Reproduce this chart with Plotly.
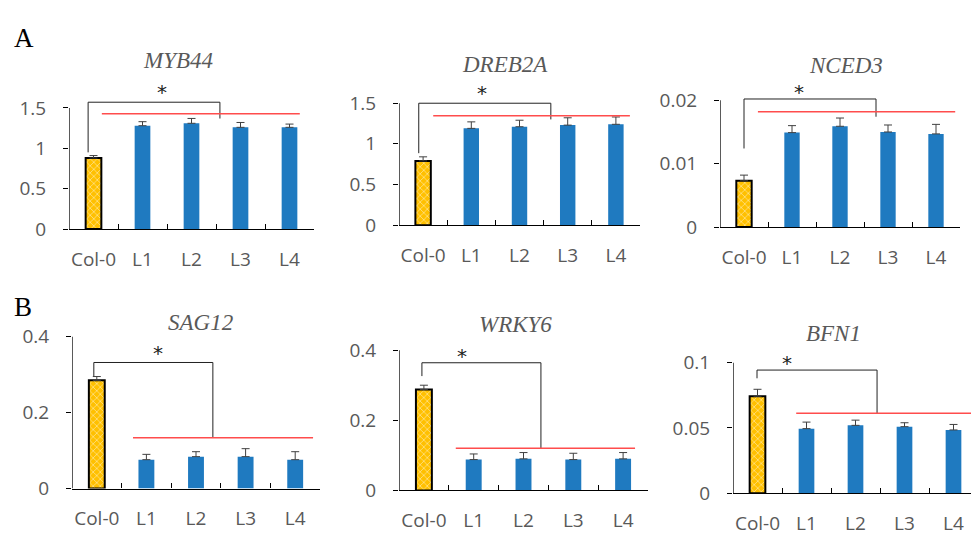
import plotly.graph_objects as go

# ---- data -------------------------------------------------------------
lines = ["Col-0", "L1", "L2", "L3", "L4"]
genes = ["MYB44", "DREB2A", "NCED3", "SAG12", "WRKY6", "BFN1"]

myb44 = [0.88, 1.28, 1.31, 1.26, 1.26]
myb44_err = [0.03, 0.05, 0.06, 0.06, 0.04]
dreb2a = [0.79, 1.19, 1.21, 1.23, 1.24]
dreb2a_err = [0.05, 0.08, 0.08, 0.09, 0.09]
nced3 = [0.0073, 0.0149, 0.0159, 0.0150, 0.0147]
nced3_err = [0.0009, 0.0011, 0.0013, 0.0011, 0.0015]
sag12 = [0.285, 0.076, 0.084, 0.084, 0.076]
sag12_err = [0.010, 0.014, 0.013, 0.021, 0.021]
wrky6 = [0.288, 0.088, 0.090, 0.088, 0.090]
wrky6_err = [0.012, 0.016, 0.018, 0.018, 0.018]
bfn1 = [0.0743, 0.0495, 0.0520, 0.0510, 0.0485]
bfn1_err = [0.0053, 0.0050, 0.0040, 0.0030, 0.0042]

y_ticks = [
    [0, 0.5, 1, 1.5],
    [0, 0.5, 1, 1.5],
    [0, 0.01, 0.02],
    [0, 0.2, 0.4],
    [0, 0.2, 0.4],
    [0, 0.05, 0.1],
]
y_ticktext = [
    ["0", "0.5", "1", "1.5"],
    ["0", "0.5", "1", "1.5"],
    ["0", "0.01", "0.02"],
    ["0", "0.2", "0.4"],
    ["0", "0.2", "0.4"],
    ["0", "0.05", "0.1"],
]

values = [myb44, dreb2a, nced3, sag12, wrky6, bfn1]
errors = [myb44_err, dreb2a_err, nced3_err, sag12_err, wrky6_err, bfn1_err]

# ---- panel geometry (pixels in a 971 x 539 canvas) --------------------
W, H = 971, 539
# left px, right px, px of y=0, px of top tick, category width px
geom = [
    (69, 314, 230, 104, 49.0),
    (399, 640, 226, 99, 48.2),
    (720, 960, 228, 96, 48.0),
    (72, 320, 500, 342, 49.6),
    (399, 648, 502, 356, 49.8),
    (733, 971, 505, 369, 49.0),
]

# significance bracket: left x, right x, left-leg bottom, bar height,
# right-leg bottom, star x, star y
brackets = [
    (-0.11, 2.58, 0.95, 1.571, 1.369, 1.40, 1.68),
    (-0.09, 2.65, 0.885, 1.499, 1.30, 1.22, 1.61),
    (0.0, 2.75, 0.0124, 0.0202, 0.0174, 1.15, 0.0212),
    (-0.06, 2.34, 0.296, 0.332, 0.134, 1.23, 0.354),
    (-0.04, 2.35, 0.326, 0.364, 0.1205, 0.77, 0.381),
    (-0.01, 2.44, 0.088, 0.0943, 0.0613, 0.60, 0.0993),
]
# red reference line: x start, x end, y
red_lines = [
    (0.17, 4.21, 1.4286),
    (0.21, 4.29, 1.346),
    (0.29, 4.40, 0.0182),
    (0.73, 4.36, 0.134),
    (0.64, 4.24, 0.1205),
    (0.79, 4.40, 0.0613),
]
title_pos = [(178, 55), (505, 59), (846, 60), (200, 327), (515, 329), (833, 339)]

BLUE = "#1f7ac0"
GOLD = "#ffc000"
GREY = "#595959"
TICK_FONT = dict(family="Open Sans", size=19, color=GREY)
ERR_STYLE = dict(type="data", symmetric=False, color="#404040", thickness=1, width=4)

fig = go.Figure()
layout_axes = {}
shapes = []
annotations = []

for i in range(6):
    n = i + 1
    xa = "x" if n == 1 else f"x{n}"
    ya = "y" if n == 1 else f"y{n}"
    left, right, ybase, ytop_px, cat_w = geom[i]
    scale = (ybase - ytop_px) / y_ticks[i][-1]
    bx0, bx1, by_l, by_top, by_r, sx, sy = brackets[i]
    rtop = max(y_ticks[i][-1], by_top, sy) * 1.04
    top_px = ybase - rtop * scale
    x_hi = -0.5 + (right - left) / cat_w

    vals = values[i]
    errs = errors[i]

    # wild type: patterned gold bar with black outline
    fig.add_trace(go.Bar(
        x=lines[:1], y=vals[:1], width=0.32,
        xaxis=xa, yaxis=ya,
        marker=dict(
            color=GOLD,
            line=dict(color="black", width=2),
            pattern=dict(shape="x", fgcolor="white", size=5,
                         solidity=0.3, fillmode="overlay"),
        ),
        error_y=dict(array=errs[:1], arrayminus=[0], **ERR_STYLE),
        showlegend=False,
    ))
    # transgenic lines: solid blue bars
    fig.add_trace(go.Bar(
        x=lines[1:], y=vals[1:], width=0.32,
        xaxis=xa, yaxis=ya,
        marker=dict(color=BLUE, line=dict(width=0)),
        error_y=dict(array=errs[1:], arrayminus=[0] * 4, **ERR_STYLE),
        showlegend=False,
    ))

    xkey = "xaxis" if n == 1 else f"xaxis{n}"
    ykey = "yaxis" if n == 1 else f"yaxis{n}"
    layout_axes[xkey] = dict(
        domain=[left / W, right / W], anchor=ya,
        type="category", categoryorder="array", categoryarray=lines,
        range=[-0.5, x_hi],
        showline=True, linecolor="black", linewidth=1.3,
        ticks="inside", tickson="boundaries", ticklen=5, tickcolor="black",
        tickwidth=1.2, tickangle=0,
        tickfont=TICK_FONT,
        ticklabelstandoff=13,
        showgrid=False, zeroline=False,
    )
    layout_axes[ykey] = dict(
        domain=[1 - ybase / H, 1 - top_px / H], anchor=xa,
        range=[0, rtop],
        tickvals=y_ticks[i], ticktext=y_ticktext[i],
        ticks="outside", ticklen=5, tickcolor="black", tickwidth=1.2,
        tickfont=TICK_FONT,
        ticklabelstandoff=13,
        showline=False, showgrid=False, zeroline=False,
    )

    # y axis line only up to the top tick
    shapes.append(dict(type="line", xref=xa, yref=ya, x0=-0.5, x1=-0.5,
                       y0=0, y1=y_ticks[i][-1],
                       line=dict(color="black", width=1.3)))

    shapes.append(dict(type="path", xref=xa, yref=ya,
                       path=f"M {bx0} {by_l} L {bx0} {by_top} L {bx1} {by_top} L {bx1} {by_r}",
                       line=dict(color="#222222", width=1)))
    annotations.append(dict(xref=xa, yref=ya, x=sx, y=sy, text="*",
                            showarrow=False, yshift=1,
                            font=dict(family="DejaVu Sans", size=20, color="#222222")))

    rx0, rx1, ry = red_lines[i]
    shapes.append(dict(type="line", xref=xa, yref=ya, x0=rx0, x1=rx1,
                       y0=ry, y1=ry, line=dict(color="#ff4d4d", width=1.5)))

    tx, ty = title_pos[i]
    annotations.append(dict(xref="paper", yref="paper", x=tx / W, y=1 - ty / H,
                            text=f"<i>{genes[i]}</i>", showarrow=False,
                            xanchor="center", yanchor="middle",
                            font=dict(family="Liberation Serif", size=23, color=GREY)))

for label, (px, py) in (("A", (24, 31)), ("B", (23, 311))):
    annotations.append(dict(xref="paper", yref="paper", x=px / W, y=1 - py / H,
                            text=label, showarrow=False,
                            xanchor="center", yanchor="middle",
                            font=dict(family="Liberation Serif", size=27, color="black")))

fig.update_layout(
    width=W, height=H,
    margin=dict(l=0, r=0, t=0, b=0),
    paper_bgcolor="white", plot_bgcolor="white",
    barmode="overlay",
    shapes=shapes, annotations=annotations,
    **layout_axes,
)

fig.write_html("out.html")
